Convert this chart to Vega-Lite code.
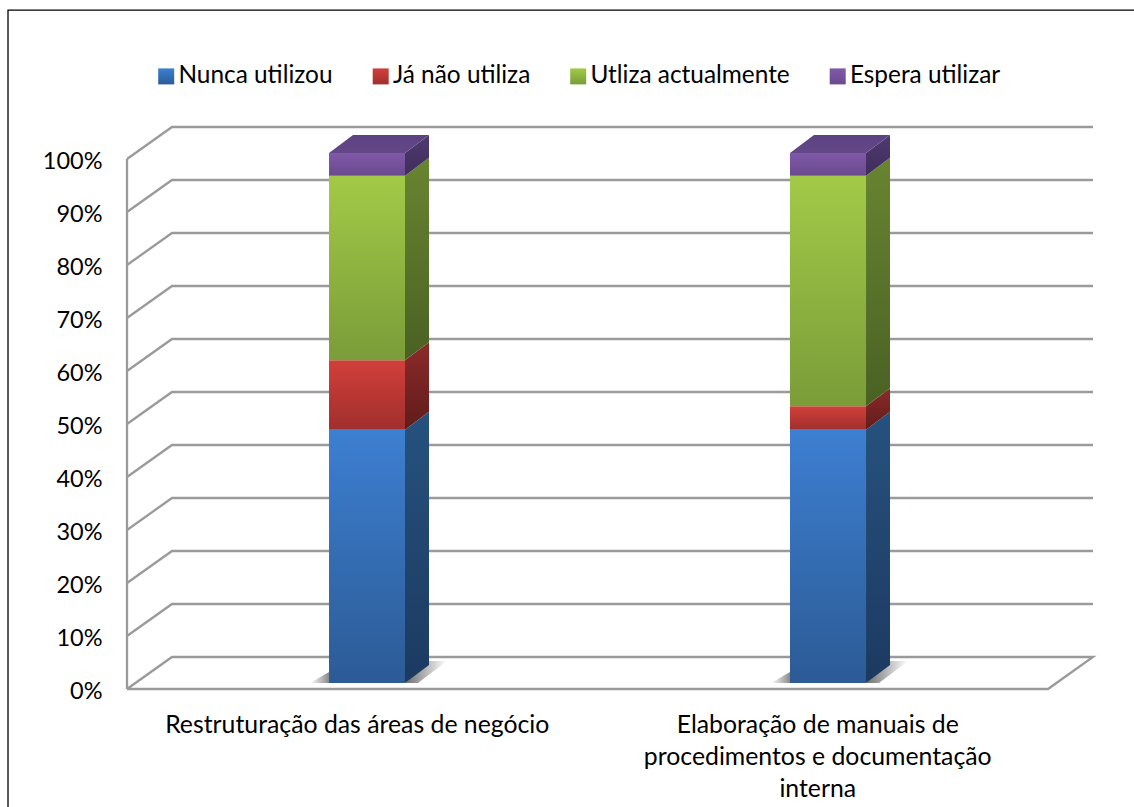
{
"$schema":"https://vega.github.io/schema/vega-lite/v6.json",
"autosize":{"type":"none"},
"padding":{"left":127,"top":127,"right":41,"bottom":118},
"width":966,"height":562,
"background":"white",
"config":{"view":{"stroke":null},"font":"Lato"},
"datasets":{
"grelha":[
{"nivel":0,"ordem":1,"x":0,"y":0},{"nivel":0,"ordem":2,"x":0.0977,"y":6.04},{"nivel":0,"ordem":3,"x":2.0977,"y":6.04},{"nivel":0,"ordem":4,"x":2,"y":0},{"nivel":0,"ordem":5,"x":0,"y":0},
{"nivel":10,"ordem":1,"x":0,"y":10},{"nivel":10,"ordem":2,"x":0.0977,"y":16.04},{"nivel":10,"ordem":3,"x":2.0977,"y":16.04},
{"nivel":20,"ordem":1,"x":0,"y":20},{"nivel":20,"ordem":2,"x":0.0977,"y":26.04},{"nivel":20,"ordem":3,"x":2.0977,"y":26.04},
{"nivel":30,"ordem":1,"x":0,"y":30},{"nivel":30,"ordem":2,"x":0.0977,"y":36.04},{"nivel":30,"ordem":3,"x":2.0977,"y":36.04},
{"nivel":40,"ordem":1,"x":0,"y":40},{"nivel":40,"ordem":2,"x":0.0977,"y":46.04},{"nivel":40,"ordem":3,"x":2.0977,"y":46.04},
{"nivel":50,"ordem":1,"x":0,"y":50},{"nivel":50,"ordem":2,"x":0.0977,"y":56.04},{"nivel":50,"ordem":3,"x":2.0977,"y":56.04},
{"nivel":60,"ordem":1,"x":0,"y":60},{"nivel":60,"ordem":2,"x":0.0977,"y":66.04},{"nivel":60,"ordem":3,"x":2.0977,"y":66.04},
{"nivel":70,"ordem":1,"x":0,"y":70},{"nivel":70,"ordem":2,"x":0.0977,"y":76.04},{"nivel":70,"ordem":3,"x":2.0977,"y":76.04},
{"nivel":80,"ordem":1,"x":0,"y":80},{"nivel":80,"ordem":2,"x":0.0977,"y":86.04},{"nivel":80,"ordem":3,"x":2.0977,"y":86.04},
{"nivel":90,"ordem":1,"x":0,"y":90},{"nivel":90,"ordem":2,"x":0.0977,"y":96.04},{"nivel":90,"ordem":3,"x":2.0977,"y":96.04},
{"nivel":100,"ordem":1,"x":0,"y":100},{"nivel":100,"ordem":2,"x":0.0977,"y":106.04},{"nivel":100,"ordem":3,"x":2.0977,"y":106.04},
{"nivel":-1,"ordem":1,"x":0,"y":0},{"nivel":-1,"ordem":2,"x":0,"y":100}
],
"moldura":[
{"ordem":1,"x":-0.2584,"y":-22.3},{"ordem":2,"x":-0.2584,"y":128.11},{"ordem":3,"x":2.19,"y":128.11}
],
"frente":[
{"categoria":"A","serie":"Nunca utilizou","x0":0.4387,"x1":0.6037,"baixo":0,"alto":47.8},
{"categoria":"A","serie":"Já não utiliza","x0":0.4387,"x1":0.6037,"baixo":47.8,"alto":60.9},
{"categoria":"A","serie":"Utliza actualmente","x0":0.4387,"x1":0.6037,"baixo":60.9,"alto":95.7},
{"categoria":"A","serie":"Espera utilizar","x0":0.4387,"x1":0.6037,"baixo":95.7,"alto":100},
{"categoria":"B","serie":"Nunca utilizou","x0":1.4397,"x1":1.6048,"baixo":0,"alto":47.8},
{"categoria":"B","serie":"Já não utiliza","x0":1.4397,"x1":1.6048,"baixo":47.8,"alto":52.2},
{"categoria":"B","serie":"Utliza actualmente","x0":1.4397,"x1":1.6048,"baixo":52.2,"alto":95.7},
{"categoria":"B","serie":"Espera utilizar","x0":1.4397,"x1":1.6048,"baixo":95.7,"alto":100}
],
"lado":[
{"categoria":"A","serie":"Nunca utilizou","x":0.6037,"baixo":0,"alto":47.8},{"categoria":"A","serie":"Nunca utilizou","x":0.6558,"baixo":3.4,"alto":51.2},
{"categoria":"A","serie":"Já não utiliza","x":0.6037,"baixo":47.8,"alto":60.9},{"categoria":"A","serie":"Já não utiliza","x":0.6558,"baixo":51.2,"alto":64.3},
{"categoria":"A","serie":"Utliza actualmente","x":0.6037,"baixo":60.9,"alto":95.7},{"categoria":"A","serie":"Utliza actualmente","x":0.6558,"baixo":64.3,"alto":99.1},
{"categoria":"A","serie":"Espera utilizar","x":0.6037,"baixo":95.7,"alto":100},{"categoria":"A","serie":"Espera utilizar","x":0.6558,"baixo":99.1,"alto":103.4},
{"categoria":"B","serie":"Nunca utilizou","x":1.6048,"baixo":0,"alto":47.8},{"categoria":"B","serie":"Nunca utilizou","x":1.6569,"baixo":3.4,"alto":51.2},
{"categoria":"B","serie":"Já não utiliza","x":1.6048,"baixo":47.8,"alto":52.2},{"categoria":"B","serie":"Já não utiliza","x":1.6569,"baixo":51.2,"alto":55.6},
{"categoria":"B","serie":"Utliza actualmente","x":1.6048,"baixo":52.2,"alto":95.7},{"categoria":"B","serie":"Utliza actualmente","x":1.6569,"baixo":55.6,"alto":99.1},
{"categoria":"B","serie":"Espera utilizar","x":1.6048,"baixo":95.7,"alto":100},{"categoria":"B","serie":"Espera utilizar","x":1.6569,"baixo":99.1,"alto":103.4}
],
"topo":[
{"categoria":"A","y":100,"x0":0.4387,"x1":0.6037},{"categoria":"A","y":103.4,"x0":0.4908,"x1":0.6558},
{"categoria":"B","y":100,"x0":1.4397,"x1":1.6048},{"categoria":"B","y":103.4,"x0":1.4918,"x1":1.6569}
],
"sombraEsq":[
{"categoria":"A","y":1.13,"x0":0.3974,"x1":0.4387},{"categoria":"A","y":3.2,"x0":0.4387,"x1":0.4387},
{"categoria":"B","y":1.13,"x0":1.3985,"x1":1.4397},{"categoria":"B","y":3.2,"x0":1.4397,"x1":1.4397}
],
"sombraDir":[
{"categoria":"A","y":1.13,"x0":0.6037,"x1":0.6319},{"categoria":"A","y":5.28,"x0":0.6558,"x1":0.6949},
{"categoria":"B","y":1.13,"x0":1.6048,"x1":1.6330},{"categoria":"B","y":5.28,"x0":1.6569,"x1":1.6960}
],
"rotulos":[
{"x":0.5,"y":0,"texto":"Restruturação das áreas de negócio"},
{"x":1.5,"y":0,"texto":"Elaboração de manuais de\nprocedimentos e documentação\ninterna"}
]
},
"layer":[
{"data":{"name":"moldura"},"mark":{"type":"line","color":"#000000","strokeWidth":1.3},
"encoding":{"order":{"field":"ordem"},
"x":{"field":"x","type":"quantitative","scale":{"domain":[0,2.0977],"nice":false,"zero":false},"axis":null},
"y":{"field":"y","type":"quantitative","title":null,"scale":{"domain":[0,106.04],"nice":false,"zero":false},
"axis":{"title":null,"values":[0,10,20,30,40,50,60,70,80,90,100],"labelExpr":"datum.value + '%'","domain":false,"ticks":false,"grid":false,"labelPadding":25,"labelOffset":2,"labelFont":"Lato","labelFontSize":23.5,"labelColor":"#000000"}}}},
{"data":{"name":"grelha"},"mark":{"type":"line","color":"#9a9a9a","strokeWidth":2.3},
"encoding":{"detail":{"field":"nivel"},"order":{"field":"ordem"},
"x":{"field":"x","type":"quantitative","axis":null},"y":{"field":"y","type":"quantitative","title":null}}},
{"data":{"name":"sombraEsq"},"mark":{"type":"area","orient":"horizontal","color":{"gradient":"linear","x1":0,"y1":0,"x2":1,"y2":0,"stops":[{"offset":0,"color":"#ffffff"},{"offset":1,"color":"#8a8a8a"}]}},
"encoding":{"detail":{"field":"categoria"},"y":{"field":"y","type":"quantitative","title":null},"x":{"field":"x0","type":"quantitative","axis":null},"x2":{"field":"x1"}}},
{"data":{"name":"sombraDir"},"mark":{"type":"area","orient":"horizontal","color":{"gradient":"linear","x1":0,"y1":0,"x2":1,"y2":0,"stops":[{"offset":0,"color":"#6e6e6e"},{"offset":1,"color":"#ffffff"}]}},
"encoding":{"detail":{"field":"categoria"},"y":{"field":"y","type":"quantitative","title":null},"x":{"field":"x0","type":"quantitative","axis":null},"x2":{"field":"x1"}}},
{"data":{"name":"lado"},"mark":{"type":"area","yOffset":-6,"y2Offset":-6},
"encoding":{"detail":{"field":"categoria"},
"x":{"field":"x","type":"quantitative","axis":null},"y":{"field":"alto","type":"quantitative","title":null},"y2":{"field":"baixo"},
"color":{"field":"serie","type":"nominal","legend":null,"scale":{"domain":["Nunca utilizou","Já não utiliza","Utliza actualmente","Espera utilizar"],"range":[
{"expr":"{gradient:'linear',x1:0,y1:0,x2:0,y2:1,stops:[{offset:0,color:'#26527f'},{offset:1,color:'#1c3a60'}]}"},
{"expr":"{gradient:'linear',x1:0,y1:0,x2:0,y2:1,stops:[{offset:0,color:'#8c2b29'},{offset:1,color:'#5f1c1b'}]}"},
{"expr":"{gradient:'linear',x1:0,y1:0,x2:0,y2:1,stops:[{offset:0,color:'#688531'},{offset:1,color:'#4a6123'}]}"},
{"expr":"{gradient:'linear',x1:0,y1:0,x2:0,y2:1,stops:[{offset:0,color:'#4f3a70'},{offset:1,color:'#3f2d5a'}]}"}
]}}}},
{"data":{"name":"frente"},"mark":{"type":"rect","yOffset":-6,"y2Offset":-6},
"encoding":{
"x":{"field":"x0","type":"quantitative","axis":null},"x2":{"field":"x1"},"y":{"field":"alto","type":"quantitative","title":null},"y2":{"field":"baixo"},
"color":{"field":"serie","type":"nominal","scale":{"domain":["Nunca utilizou","Já não utiliza","Utliza actualmente","Espera utilizar"],"range":[
{"expr":"{gradient:'linear',x1:0,y1:0,x2:0,y2:1,stops:[{offset:0,color:'#3d7fd1'},{offset:1,color:'#2c5b96'}]}"},
{"expr":"{gradient:'linear',x1:0,y1:0,x2:0,y2:1,stops:[{offset:0,color:'#d23f3b'},{offset:1,color:'#a02f2c'}]}"},
{"expr":"{gradient:'linear',x1:0,y1:0,x2:0,y2:1,stops:[{offset:0,color:'#a2ca47'},{offset:1,color:'#7b9c39'}]}"},
{"expr":"{gradient:'linear',x1:0,y1:0,x2:0,y2:1,stops:[{offset:0,color:'#8059a8'},{offset:1,color:'#6a4a8e'}]}"}
]},
"legend":{"orient":"none","legendX":27,"legendY":-63,"direction":"horizontal","columns":4,"title":null,"padding":0,"columnPadding":35.5,"symbolType":"square","symbolSize":256,"symbolStrokeWidth":0,"labelFont":"Lato","labelFontSize":24.4,"labelColor":"#000000","labelOffset":0,"labelLimit":300}}}},
{"data":{"name":"topo"},"mark":{"type":"area","orient":"horizontal","yOffset":-6,"color":{"gradient":"linear","x1":0,"y1":0,"x2":0,"y2":1,"stops":[{"offset":0,"color":"#5c4280"},{"offset":1,"color":"#644888"}]}},
"encoding":{"detail":{"field":"categoria"},"y":{"field":"y","type":"quantitative","title":null},"x":{"field":"x0","type":"quantitative","axis":null},"x2":{"field":"x1"}}},
{"data":{"name":"rotulos"},"mark":{"type":"text","align":"center","baseline":"top","dy":24,"lineBreak":"\n","lineHeight":32,"font":"Lato","fontSize":24.8,"color":"#000000"},
"encoding":{"x":{"field":"x","type":"quantitative","axis":null},"y":{"field":"y","type":"quantitative","title":null},"text":{"field":"texto"}}}
],
"resolve":{"scale":{"color":"independent"}}
}
